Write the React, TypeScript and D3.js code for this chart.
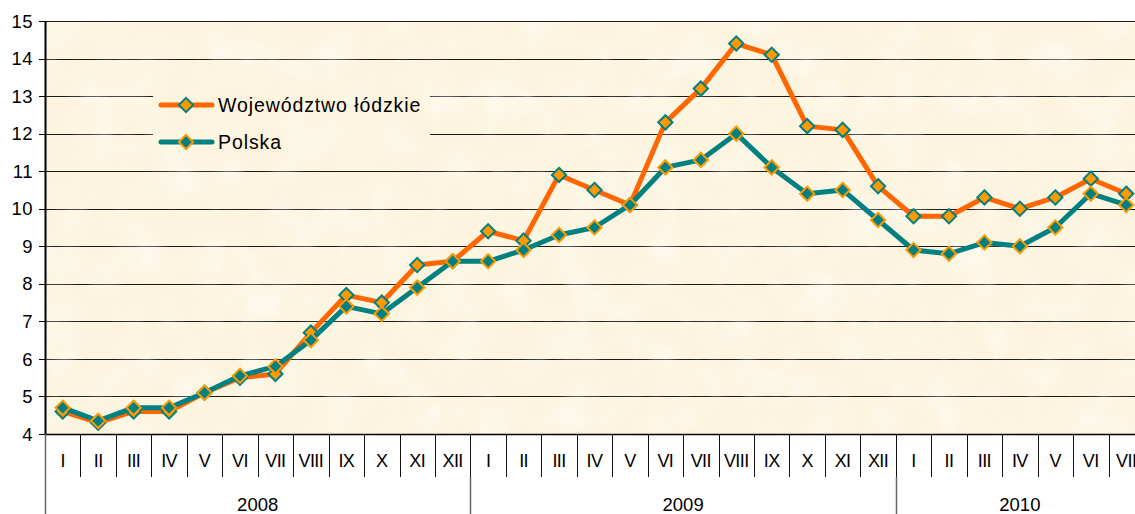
import React, { useEffect, useRef } from "react";
import * as d3 from "d3";

// months shown on the axis (2008 I..XII, 2009 I..XII, 2010 I..VII)
const monthLabels = ["I", "II", "III", "IV", "V", "VI", "VII", "VIII", "IX", "X", "XI", "XII"];
const years = [
  { year: "2008", months: 12 },
  { year: "2009", months: 12 },
  { year: "2010", months: 7 },
];
const lodzkie = [
  4.6, 4.3, 4.6, 4.6, 5.1, 5.5, 5.6, 6.7, 7.7, 7.5, 8.5, 8.6,
  9.4, 9.15, 10.9, 10.5, 10.1, 12.3, 13.2, 14.4, 14.1, 12.2, 12.1, 10.6,
  9.8, 9.8, 10.3, 10.0, 10.3, 10.8, 10.4,
];
const polska = [
  4.7, 4.35, 4.7, 4.7, 5.1, 5.55, 5.8, 6.5, 7.4, 7.2, 7.9, 8.6,
  8.6, 8.9, 9.3, 9.5, 10.1, 11.1, 11.3, 12.0, 11.1, 10.4, 10.5, 9.7,
  8.9, 8.8, 9.1, 9.0, 9.5, 10.4, 10.1,
];
const yTicks = [4, 5, 6, 7, 8, 9, 10, 11, 12, 13, 14, 15];
const seriesNames = ["Województwo łódzkie", "Polska"];

const W = 1135;
const H = 514;
const FONT = "'Liberation Sans', Arial, sans-serif";
const ORANGE = "#ff6600";
const AMBER = "#ff9900";
const TEAL = "#008080";
const CREAM = "#fcf4de";

function App() {
  const svgRef = useRef<SVGSVGElement>(null);

  useEffect(() => {
    const svg = d3.select(svgRef.current);
    svg.selectAll("*").remove();

    const cats: { key: number; label: string }[] = [];
    years.forEach((y, yi) => {
      for (let m = 0; m < y.months; m++) cats.push({ key: yi * 12 + m, label: monthLabels[m] });
    });

    const x = d3.scaleBand<number>()
      .domain(cats.map((c) => c.key))
      .range([45, 45 + cats.length * 35.45])
      .padding(0);
    const y = d3.scaleLinear().domain([4, 15]).range([434, 21]);
    const cx = (i: number) => x(cats[i].key)! + x.bandwidth() / 2;

    // paper texture
    const defs = svg.append("defs");
    const f = defs.append("filter").attr("id", "paper").attr("x", 0).attr("y", 0).attr("width", 1).attr("height", 1);
    f.append("feTurbulence").attr("type", "fractalNoise").attr("baseFrequency", 0.025).attr("numOctaves", 3).attr("seed", 7);
    f.append("feColorMatrix").attr("values", "0 0 0 0 1  0 0 0 0 1  0 0 0 0 1  0 0 0 1.4 -0.6");
    f.append("feComposite").attr("in2", "SourceGraphic").attr("operator", "in");

    const plotRight = 45 + cats.length * 35.45;
    svg.append("rect").attr("x", 45).attr("y", 21).attr("width", plotRight - 45).attr("height", 413).attr("fill", CREAM);

    // gridlines
    svg.append("g")
      .selectAll("line")
      .data(yTicks)
      .join("line")
      .attr("x1", 45).attr("x2", plotRight)
      .attr("y1", (d) => Math.round(y(d)) + 0.5).attr("y2", (d) => Math.round(y(d)) + 0.5)
      .attr("stroke", "#1a1a1a").attr("stroke-width", 1.2);

    // legend background hides grid
    svg.append("rect").attr("x", 153).attr("y", 70).attr("width", 277).attr("height", 92).attr("fill", CREAM);

    svg.append("rect").attr("x", 45).attr("y", 22).attr("width", plotRight - 45).attr("height", 411)
      .attr("fill", "#fffcf2").attr("opacity", 0.7).attr("filter", "url(#paper)");

    // y axis
    const ya = svg.append("g");
    ya.append("line").attr("x1", 45.5).attr("x2", 45.5).attr("y1", 21).attr("y2", 434).attr("stroke", "#000").attr("stroke-width", 2);
    ya.selectAll("line.tick").data(yTicks).join("line").attr("class", "tick")
      .attr("x1", 39).attr("x2", 45).attr("y1", (d) => Math.round(y(d)) + 0.5).attr("y2", (d) => Math.round(y(d)) + 0.5)
      .attr("stroke", "#000");
    ya.selectAll("text").data(yTicks).join("text")
      .attr("x", 33).attr("y", (d) => y(d)).attr("dy", "0.36em").attr("text-anchor", "end")
      .attr("font-family", FONT).attr("font-size", 18.5).attr("letter-spacing", 0.5).attr("fill", "#000")
      .text((d) => d);

    // x axis: months and years
    const xa = svg.append("g");
    xa.append("line").attr("x1", 45).attr("x2", plotRight).attr("y1", 434.5).attr("y2", 434.5).attr("stroke", "#000").attr("stroke-width", 1.5);
    xa.selectAll("line.sep").data(cats.slice(1)).join("line").attr("class", "sep")
      .attr("x1", (d) => Math.round(x(d.key)!) + 0.5).attr("x2", (d) => Math.round(x(d.key)!) + 0.5)
      .attr("y1", 434).attr("y2", 477).attr("stroke", "#111");
    xa.selectAll("text.m").data(cats).join("text").attr("class", "m")
      .attr("x", (d) => x(d.key)! + x.bandwidth() / 2).attr("y", 461).attr("dy", "0.36em").attr("text-anchor", "middle")
      .attr("font-family", FONT).attr("font-size", 18).attr("letter-spacing", -0.6).attr("fill", "#000")
      .text((d) => d.label);
    let start = 0;
    const yearPos = years.map((yr) => {
      const s = start;
      start += yr.months;
      return { ...yr, s, e: start };
    });
    xa.selectAll("line.yr").data(yearPos).join("line").attr("class", "yr")
      .attr("x1", (d) => Math.round(x(cats[d.s].key)!) + 0.5).attr("x2", (d) => Math.round(x(cats[d.s].key)!) + 0.5)
      .attr("y1", (d) => (d.s === 0 ? 434 : 477)).attr("y2", H).attr("stroke", "#666").attr("stroke-width", 1.5);
    xa.selectAll("text.yr").data(yearPos).join("text").attr("class", "yr")
      .attr("x", (d) => x(cats[d.s].key)! + ((d.e - d.s) * x.bandwidth()) / 2).attr("y", 504).attr("dy", "0.36em")
      .attr("text-anchor", "middle").attr("font-family", FONT).attr("font-size", 18.5).attr("fill", "#000")
      .text((d) => d.year);

    // series (Polska drawn last, on top)
    const series = [
      { name: seriesNames[0], values: lodzkie, line: ORANGE, fill: AMBER, edge: TEAL },
      { name: seriesNames[1], values: polska, line: TEAL, fill: TEAL, edge: AMBER },
    ];
    const diamond = d3.symbol().type(d3.symbolDiamond2).size(130);
    const lineGen = d3.line<number>().x((_, i) => cx(i)).y((d) => y(d));

    series.forEach((s) => {
      const g = svg.append("g");
      g.append("path").attr("d", lineGen(s.values)).attr("fill", "none")
        .attr("stroke", s.line).attr("stroke-width", 5).attr("stroke-linejoin", "round");
      g.selectAll("path.mk").data(s.values).join("path").attr("class", "mk")
        .attr("d", diamond).attr("transform", (d, i) => `translate(${cx(i)},${y(d)})`)
        .attr("fill", s.fill).attr("stroke", s.edge).attr("stroke-width", 2);
    });

    // legend
    const lg = svg.append("g");
    series.forEach((s, i) => {
      const ly = 105 + i * 37;
      lg.append("line").attr("x1", 161).attr("x2", 212).attr("y1", ly).attr("y2", ly)
        .attr("stroke", s.line).attr("stroke-width", 5).attr("stroke-linecap", "round");
      lg.append("path").attr("d", diamond).attr("transform", `translate(186,${ly})`)
        .attr("fill", s.fill).attr("stroke", s.edge).attr("stroke-width", 2);
      lg.append("text").attr("x", 218).attr("y", ly).attr("dy", "0.36em")
        .attr("font-family", FONT).attr("font-size", 19.5).attr("letter-spacing", 0.9).attr("fill", "#000")
        .text(s.name);
    });
  }, []);

  return (
    <svg
      ref={svgRef}
      width={W}
      height={H}
      style={{ position: "fixed", left: 0, top: 0, background: "#fff" }}
    />
  );
}

export default App;
